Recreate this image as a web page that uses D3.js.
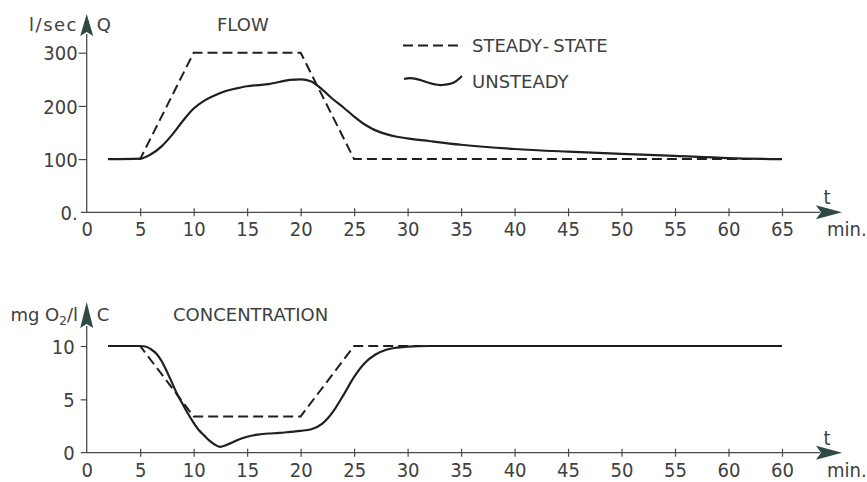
<!DOCTYPE html>
<html><head><meta charset="utf-8">
<script src="https://cdn.jsdelivr.net/npm/d3@7/dist/d3.min.js"></script>
<style>
body{margin:0;background:#fff}
.num{font-family:"Liberation Sans Narrow","DejaVu Sans Condensed","Liberation Sans",sans-serif;font-size:20px;fill:#404040}
.lab{font-family:"DejaVu Sans",sans-serif;font-size:18px;fill:#404040}
</style>
</head><body>
<svg id="c" width="867" height="482"></svg>
<script>
// ---- data ----
const timeTicks = [0,5,10,15,20,25,30,35,40,45,50,55,60,65];
const flowTimeLabels = ["0","5","10","15","20","25","30","35","40","45","50","55","60","65"];
const concTimeLabels = ["0","5","10","15","20","25","30","35","40","45","50","55","60","60"];
const flowYTicks = [0,100,200,300];
const flowYLabels = ["0.","100","200","300"];
const concYTicks = [0,5,10];
const concYLabels = ["0","5","10"];

const steadyT = [2,5,10,20,25,65];
const steadyQ = [100,100,300,300,100,100];
const steadyC = [10,10,3.4,3.4,10,10];

const flowT = [2,5,6,7,8,9,10,11,12,13,14,15,16,17,18,19,20,21,22,23,24,25,26,27,28,29,30,32,35,40,45,50,55,60,65];
const flowQ = [100,101,109,124,146,172,195,210,220,228,233,237,239,241,245,249,250,246,231,213,197,180,165,154,147,142,139,134,127,119,114,110,106,102,100];

const concT = [2,5,5.5,6,6.5,7,7.5,8,8.5,9,9.5,10,10.5,11,11.5,12,12.5,13,13.5,14,15,16,17,18,19,20,21,22,23,24,25,26,27,28,29,30,32,35,65];
const concC = [10,10,9.95,9.7,9.3,8.6,7.6,6.5,5.4,4.5,3.6,2.8,2.1,1.6,1.1,0.75,0.55,0.7,0.9,1.15,1.5,1.7,1.8,1.85,1.95,2.05,2.2,2.7,3.8,5.4,7.1,8.4,9.2,9.65,9.85,9.95,10,10,10];

// ---- drawing ----
const svg = d3.select("#c");
const ink = "#1f1f1f", axisCol = "#4a4a4a", arrowCol = "#2f4a45";
const x = d3.scaleLinear().domain([0,65]).range([86.7,782]);

function panel(cfg){
  const y = d3.scaleLinear().domain(cfg.yDomain).range(cfg.yRange);
  const g = svg.append("g");
  const y0 = y(0);
  g.append("line").attr("x1",81).attr("x2",820).attr("y1",y0).attr("y2",y0)
    .attr("stroke",axisCol).attr("stroke-width",1.3);
  g.append("path").attr("d",`M842,${y0} L816,${y0-7} L821,${y0} L816,${y0+7} Z`).attr("fill",arrowCol);
  g.append("line").attr("x1",x(0)).attr("x2",x(0)).attr("y1",y0).attr("y2",cfg.arrowBase)
    .attr("stroke",axisCol).attr("stroke-width",1.3);
  g.append("path").attr("d",`M${x(0)},${cfg.arrowTip} L${x(0)-6.5},${cfg.arrowBase+2} L${x(0)},${cfg.arrowBase-2} L${x(0)+6.5},${cfg.arrowBase+2} Z`).attr("fill",arrowCol);

  const xa = d3.axisBottom(x).tickValues(timeTicks).tickSize(0).tickPadding(0)
    .tickFormat((d,i)=>cfg.xLabels[i]);
  const xg = g.append("g").attr("transform",`translate(0,${y0})`).call(xa);
  xg.select(".domain").remove();
  xg.selectAll(".tick line").attr("y1",-4).attr("y2",4).attr("stroke",axisCol).attr("stroke-width",1.2)
    .filter(d=>d===0).remove();
  xg.selectAll(".tick text").attr("class","num").attr("y",24).attr("dy",null).attr("fill",null);
  xg.attr("font-family",null).attr("font-size",null);

  const ya = d3.axisLeft(y).tickValues(cfg.yTicks).tickSize(0).tickPadding(0)
    .tickFormat((d,i)=>cfg.yLabels[i]);
  const yg = g.append("g").attr("transform",`translate(${x(0)},0)`).call(ya);
  yg.select(".domain").remove();
  yg.attr("font-family",null).attr("font-size",null);
  yg.selectAll(".tick line").attr("x1",-cfg.yTickLen).attr("x2",0).attr("stroke",axisCol).attr("stroke-width",1.2)
    .filter(d=>d===0).remove();
  yg.selectAll(".tick text").attr("class","num").attr("x",-cfg.yLabelGap).attr("dy","0.36em").attr("fill",null);

  g.append("text").attr("class","lab").attr("x",cfg.unitX).attr("y",cfg.labelY).attr("text-anchor","end")
    .attr("letter-spacing",cfg.unitSpacing).html(cfg.unit);
  g.append("text").attr("class","lab").attr("x",x(0)+10).attr("y",cfg.labelY).text(cfg.sym);
  g.append("text").attr("class","lab").attr("x",cfg.titleX).attr("y",cfg.labelY).text(cfg.title);
  g.append("text").attr("class","num").attr("x",827).attr("y",y0-8).attr("text-anchor","middle").text("t");
  g.append("text").attr("class","num").attr("x",827).attr("y",y0+24).text("min.");

  const steadyLine = d3.line().x((d,i)=>x(steadyT[i])).y(d=>y(d));
  g.append("path").datum(cfg.steady).attr("d",steadyLine).attr("fill","none")
    .attr("stroke",ink).attr("stroke-width",2).attr("stroke-dasharray","10,5");
  const uLine = d3.line().x((d,i)=>x(cfg.uT[i])).y(d=>y(d)).curve(d3.curveMonotoneX);
  g.append("path").datum(cfg.uV).attr("d",uLine).attr("fill","none")
    .attr("stroke",ink).attr("stroke-width",2.2).attr("stroke-linejoin","round");
  return g;
}

panel({yDomain:[0,300], yRange:[212.3,52.7], yTicks:flowYTicks, yLabels:flowYLabels, yTickLen:8, yLabelGap:9,
  xLabels:flowTimeLabels, arrowTip:14, arrowBase:34, unit:"l/sec", unitX:78, unitSpacing:1.5, sym:"Q", labelY:31,
  title:"FLOW", titleX:217, steady:steadyQ, uT:flowT, uV:flowQ});

panel({yDomain:[0,10], yRange:[452.7,346], yTicks:concYTicks, yLabels:concYLabels, yTickLen:6, yLabelGap:12,
  xLabels:concTimeLabels, arrowTip:302, arrowBase:326, unit:'mg O<tspan dy="4" font-size="12">2</tspan><tspan dy="-4">/l</tspan>', unitX:78, unitSpacing:0, sym:"C", labelY:321,
  title:"CONCENTRATION", titleX:173, steady:steadyC, uT:concT, uV:concC});

// legend
const lg = svg.append("g");
lg.append("line").attr("x1",403).attr("x2",462).attr("y1",45.5).attr("y2",45.5)
  .attr("stroke",ink).attr("stroke-width",2).attr("stroke-dasharray","10,5");
lg.append("path").attr("d","M404,79 C418,75 428,86 442,85 S456,81 462,76").attr("fill","none")
  .attr("stroke",ink).attr("stroke-width",2.2);
const t1 = lg.append("text").attr("class","lab").attr("x",472).attr("y",52);
t1.append("tspan").text("STEADY");
t1.append("tspan").attr("dx",3).text("-");
t1.append("tspan").attr("dx",4).text("STATE");
lg.append("text").attr("class","lab").attr("x",472).attr("y",88).text("UNSTEADY");
</script>
</body></html>
